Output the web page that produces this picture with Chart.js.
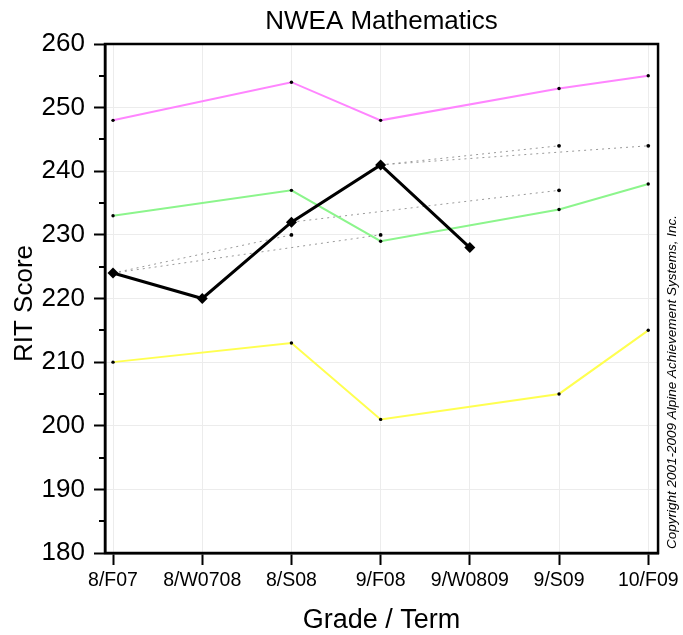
<!DOCTYPE html>
<html>
<head>
<meta charset="utf-8">
<script src="https://cdn.jsdelivr.net/npm/chart.js@4"></script>
<style>
  html, body { margin: 0; padding: 0; background: #fff; }
  #wrap { width: 683px; height: 635px; }
</style>
</head>
<body>
<div id="wrap"><canvas id="rit-chart" width="683" height="635"></canvas></div>
<script>
    var terms = ["8/F07", "8/W0708", "8/S08", "9/F08", "9/W0809", "9/S09", "10/F09"];
    var yTicks = [180, 190, 200, 210, 220, 230, 240, 250, 260];

    // norm bands
    var pinkScores = [248, null, 254, 248, null, 253, 255];
    var greenScores = [233, null, 237, 229, null, 234, 238];
    var yellowScores = [210, null, 213, 201, null, 205, 215];

    // student
    var studentScores = [224, 220, 232, 241, 228, null, null];

    // growth targets (dotted)
    var growthF07toS08 = [224, null, 230, null, null, null, null];
    var growthF07toF08 = [224, null, null, 230, null, null, null];
    var growthS08toS09 = [null, null, 232, null, null, 237, null];
    var growthF08toS09 = [null, null, null, 241, null, 244, null];
    var growthF08toF09 = [null, null, null, 241, null, null, 244];

    var FONT = "'Liberation Sans', Arial, sans-serif";

    function toPoints(arr) {
        var pts = [];
        arr.forEach(function (v, i) {
            if (v !== null) pts.push({ x: i, y: v });
        });
        return pts;
    }

    function bandSet(label, arr, color) {
        return {
            label: label,
            data: toPoints(arr),
            borderColor: color,
            borderWidth: 2,
            pointRadius: 1.7,
            pointBackgroundColor: "#000",
            pointBorderWidth: 0,
            order: 2
        };
    }

    function growthSet(label, arr) {
        return {
            label: label,
            data: toPoints(arr),
            borderColor: "#999",
            borderWidth: 1,
            borderDash: [2, 4],
            pointRadius: function (c) { return c.dataIndex === 0 ? 0 : 1.9; },
            pointBackgroundColor: "#000",
            pointBorderWidth: 0,
            order: 3
        };
    }

    var extras = {
        id: "extras",
        afterDraw: function (chart) {
            var c = chart.ctx, a = chart.chartArea, y = chart.scales.y;
            c.save();
            // minor ticks
            c.strokeStyle = "#000";
            c.lineWidth = 2;
            for (var v = 185; v < 260; v += 10) {
                var py = Math.round(y.getPixelForValue(v));
                c.beginPath();
                c.moveTo(a.left - 6, py);
                c.lineTo(a.left, py);
                c.stroke();
            }
            // frame
            c.lineWidth = 2.5;
            c.strokeRect(a.left, a.top, a.right - a.left, a.bottom - a.top);

            c.fillStyle = "#000";
            c.textAlign = "center";
            c.textBaseline = "middle";
            c.font = "26px " + FONT;
            c.fillText("NWEA Mathematics", (a.left + a.right) / 2, 22);
            c.font = "27px " + FONT;
            c.fillText("Grade / Term", (a.left + a.right) / 2, 621);

            c.save();
            c.translate(25, (a.top + a.bottom) / 2 + 5);
            c.rotate(-Math.PI / 2);
            c.font = "26px " + FONT;
            c.fillText("RIT Score", 0, 0);
            c.restore();

            c.save();
            c.translate(672, a.bottom - 4);
            c.rotate(-Math.PI / 2);
            c.textAlign = "left";
            c.font = "italic 13.5px " + FONT;
            c.fillText("Copyright 2001-2009 Alpine Achievement Systems, Inc.", 0, 0);
            c.restore();
            c.restore();
        }
    };

    var ctx = document.getElementById("rit-chart").getContext("2d");

    var ritChart = new Chart(ctx, {
        type: "line",
        data: {
            datasets: [
                {
                    label: "Student",
                    data: toPoints(studentScores),
                    borderColor: "#000",
                    borderWidth: 3,
                    pointStyle: "rectRot",
                    pointRadius: 5.5,
                    pointBackgroundColor: "#000",
                    pointBorderWidth: 0,
                    order: 0
                },
                bandSet("High", pinkScores, "#ff85ff"),
                bandSet("Mid", greenScores, "#8cf58c"),
                bandSet("Low", yellowScores, "#ffff50"),
                growthSet("F07-S08", growthF07toS08),
                growthSet("F07-F08", growthF07toF08),
                growthSet("S08-S09", growthS08toS09),
                growthSet("F08-S09", growthF08toS09),
                growthSet("F08-F09", growthF08toF09)
            ]
        },
        options: {
            responsive: false,
            animation: false,
            layout: { padding: { top: 44, right: 23, left: 0, bottom: 0 } },
            plugins: {
                legend: { display: false },
                tooltip: { enabled: false }
            },
            scales: {
                x: {
                    type: "linear",
                    min: -0.09,
                    max: 6.11,
                    afterBuildTicks: function (s) {
                        s.ticks = terms.map(function (t, i) { return { value: i }; });
                    },
                    afterFit: function (s) { s.height = 82; },
                    ticks: {
                        padding: 4,
                        color: "#000",
                        maxRotation: 0,
                        autoSkip: false,
                        font: { family: FONT, size: 19.5 },
                        callback: function (v) { return terms[v]; }
                    },
                    grid: {
                        color: "#ececec",
                        tickColor: "#000",
                        tickLength: 12,
                        tickWidth: 2
                    },
                    border: { color: "#000", width: 2.5 }
                },
                y: {
                    min: 180,
                    max: 260,
                    afterBuildTicks: function (s) {
                        s.ticks = yTicks.map(function (v) { return { value: v }; });
                    },
                    afterFit: function (s) { s.width = 105; },
                    ticks: {
                        padding: 9,
                        color: "#000",
                        font: { family: FONT, size: 26 }
                    },
                    grid: {
                        color: "#ececec",
                        tickColor: "#000",
                        tickLength: 11,
                        tickWidth: 2
                    },
                    border: { color: "#000", width: 2.5 }
                }
            }
        },
        plugins: [extras]
    });
</script>
</body>
</html>
